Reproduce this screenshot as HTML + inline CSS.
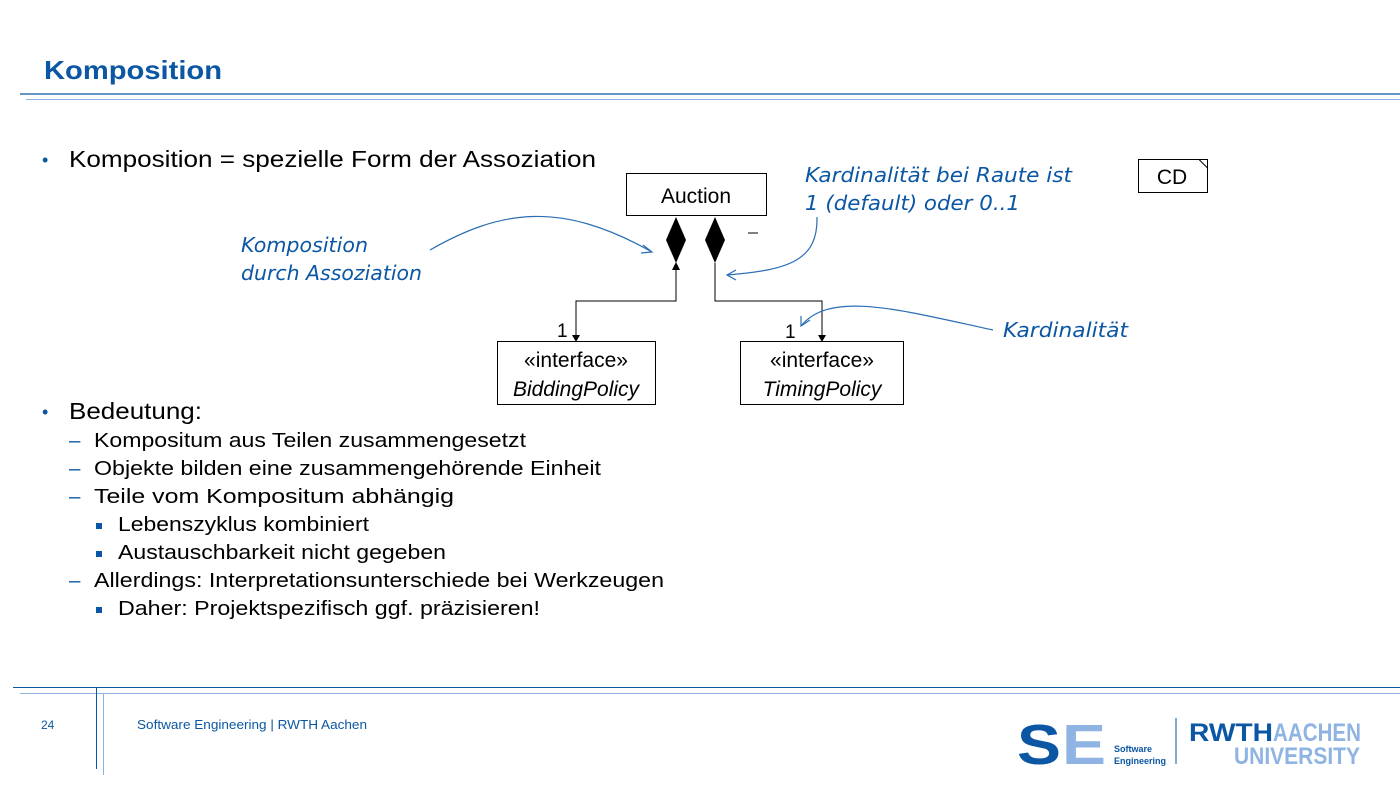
<!DOCTYPE html>
<html><head><meta charset="utf-8"><style>
body{margin:0;width:1400px;height:788px;background:#fff;overflow:hidden;font-family:"Liberation Sans",Arial,sans-serif}
svg{position:absolute;left:0;top:0}
</style></head><body>
<svg width="1400" height="788" viewBox="0 0 1400 788" font-family="Liberation Sans, Arial, sans-serif">
<text x="44" y="79" font-size="26" font-weight="bold" fill="#0b57a4" textLength="178" lengthAdjust="spacingAndGlyphs">Komposition</text>
<line x1="20" y1="94" x2="1400" y2="94" stroke="#0b57a4" stroke-width="1.3"/>
<line x1="26" y1="99.5" x2="1400" y2="99.5" stroke="#8fb4e3" stroke-width="1"/>

<text x="42" y="166" font-size="18" fill="#0b57a4">•</text>
<text x="69" y="167" font-size="23.5" fill="#000" textLength="527" lengthAdjust="spacingAndGlyphs">Komposition = spezielle Form der Assoziation</text>
<text x="42" y="418" font-size="18" fill="#0b57a4">•</text>
<text x="69" y="419" font-size="23.5" fill="#000" textLength="133" lengthAdjust="spacingAndGlyphs">Bedeutung:</text>
<g font-size="20.5" fill="#000">
<text x="69" y="447" fill="#0b57a4">–</text><text x="94" y="447" textLength="432" lengthAdjust="spacingAndGlyphs">Kompositum aus Teilen zusammengesetzt</text>
<text x="69" y="475" fill="#0b57a4">–</text><text x="94" y="475" textLength="507" lengthAdjust="spacingAndGlyphs">Objekte bilden eine zusammengehörende Einheit</text>
<text x="69" y="503" fill="#0b57a4">–</text><text x="94" y="503" textLength="360" lengthAdjust="spacingAndGlyphs">Teile vom Kompositum abhängig</text>
<rect x="96" y="523" width="6" height="6" fill="#0b57a4"/><text x="118" y="531" textLength="251" lengthAdjust="spacingAndGlyphs">Lebenszyklus kombiniert</text>
<rect x="96" y="551" width="6" height="6" fill="#0b57a4"/><text x="118" y="559" textLength="328" lengthAdjust="spacingAndGlyphs">Austauschbarkeit nicht gegeben</text>
<text x="69" y="587" fill="#0b57a4">–</text><text x="94" y="587" textLength="570" lengthAdjust="spacingAndGlyphs">Allerdings: Interpretationsunterschiede bei Werkzeugen</text>
<rect x="96" y="607" width="6" height="6" fill="#0b57a4"/><text x="118" y="615" textLength="422" lengthAdjust="spacingAndGlyphs">Daher: Projektspezifisch ggf. präzisieren!</text>
</g>

<!-- diagram -->
<rect x="626.5" y="173.5" width="140" height="42" fill="#fff" stroke="#000"/>
<text x="696" y="203" font-size="21" text-anchor="middle">Auction</text>
<polygon points="676,217 686,240 676,263 666,240" fill="#000"/>
<polygon points="715,217 725,240 715,263 705,240" fill="#000"/>
<line x1="748" y1="233" x2="758" y2="233" stroke="#000"/>
<polyline points="676,268 676,301 576,301 576,337" fill="none" stroke="#000"/>
<polygon points="676,262 680,270 672,270" fill="#000"/>
<polygon points="572,335 580,335 576,342" fill="#000"/>
<polyline points="715,263 715,301 822,301 822,337" fill="none" stroke="#000"/>
<polygon points="818,335 826,335 822,342" fill="#000"/>
<text x="557" y="337" font-size="19">1</text>
<text x="785" y="338" font-size="19">1</text>
<rect x="497.5" y="341.5" width="158" height="63" fill="#fff" stroke="#000"/>
<text x="576" y="367" font-size="21" text-anchor="middle">«interface»</text>
<text x="576" y="396" font-size="21" font-style="italic" text-anchor="middle">BiddingPolicy</text>
<rect x="740.5" y="341.5" width="163" height="63" fill="#fff" stroke="#000"/>
<text x="822" y="367" font-size="21" text-anchor="middle">«interface»</text>
<text x="822" y="396" font-size="21" font-style="italic" text-anchor="middle">TimingPolicy</text>

<rect x="1138.5" y="159.5" width="69" height="33" fill="#fff" stroke="#000"/>
<polyline points="1199,159.5 1207.5,168" fill="none" stroke="#000"/>
<text x="1172" y="184" font-size="21" text-anchor="middle">CD</text>

<g font-family="DejaVu Sans, sans-serif" font-style="italic" font-size="20" fill="#0b57a4">
<text x="241" y="252" textLength="127" lengthAdjust="spacingAndGlyphs">Komposition</text>
<text x="241" y="280" textLength="181" lengthAdjust="spacingAndGlyphs">durch Assoziation</text>
<text x="805" y="182" textLength="267" lengthAdjust="spacingAndGlyphs">Kardinalität bei Raute ist</text>
<text x="805" y="210" textLength="215" lengthAdjust="spacingAndGlyphs">1 (default) oder 0..1</text>
<text x="1003" y="337" textLength="125" lengthAdjust="spacingAndGlyphs">Kardinalität</text>
</g>
<g fill="none" stroke="#2a6db5" stroke-width="1.2">
<path d="M430 250 C 500 210, 560 200, 652 252"/>
<path d="M643 245 L652 252 L641 253"/>
<path d="M817 217 C 818 260, 790 270, 727 275"/>
<path d="M736 270 L727 275 L736 280"/>
<path d="M993 330 C 900 310, 830 290, 801 326"/>
<path d="M801 316 L801 326 L810 320"/>
</g>

<!-- footer -->
<line x1="13" y1="687.5" x2="1400" y2="687.5" stroke="#0b57a4" stroke-width="1"/>
<line x1="20" y1="693.5" x2="1400" y2="693.5" stroke="#8fb4e3" stroke-width="1"/>
<line x1="96.5" y1="687" x2="96.5" y2="769" stroke="#0b57a4"/>
<line x1="103.5" y1="693" x2="103.5" y2="775" stroke="#8fb4e3"/>
<text x="41" y="729" font-size="12" fill="#0b57a4">24</text>
<text x="137" y="729" font-size="12.5" fill="#0b57a4" textLength="230" lengthAdjust="spacingAndGlyphs">Software Engineering  |  RWTH Aachen</text>
<text x="1017" y="764" font-size="57" font-weight="bold" fill="#0b57a4" textLength="44" lengthAdjust="spacingAndGlyphs">S</text>
<text x="1062" y="764" font-size="57" font-weight="bold" fill="#8fb4e3" textLength="44" lengthAdjust="spacingAndGlyphs">E</text>
<text x="1114" y="752" font-size="9" font-weight="bold" fill="#0b57a4">Software</text>
<text x="1114" y="764" font-size="9" font-weight="bold" fill="#0b57a4">Engineering</text>
<line x1="1176" y1="718" x2="1176" y2="764" stroke="#0b57a4"/>
<text x="1189" y="741" font-size="25" font-weight="bold" fill="#0b57a4" textLength="84" lengthAdjust="spacingAndGlyphs">RWTH</text>
<text x="1273" y="741" font-size="25" font-weight="bold" fill="#8fb4e3" textLength="88" lengthAdjust="spacingAndGlyphs">AACHEN</text>
<text x="1234" y="764" font-size="24" font-weight="bold" fill="#8fb4e3" textLength="126" lengthAdjust="spacingAndGlyphs">UNIVERSITY</text>
</svg>
</body></html>
